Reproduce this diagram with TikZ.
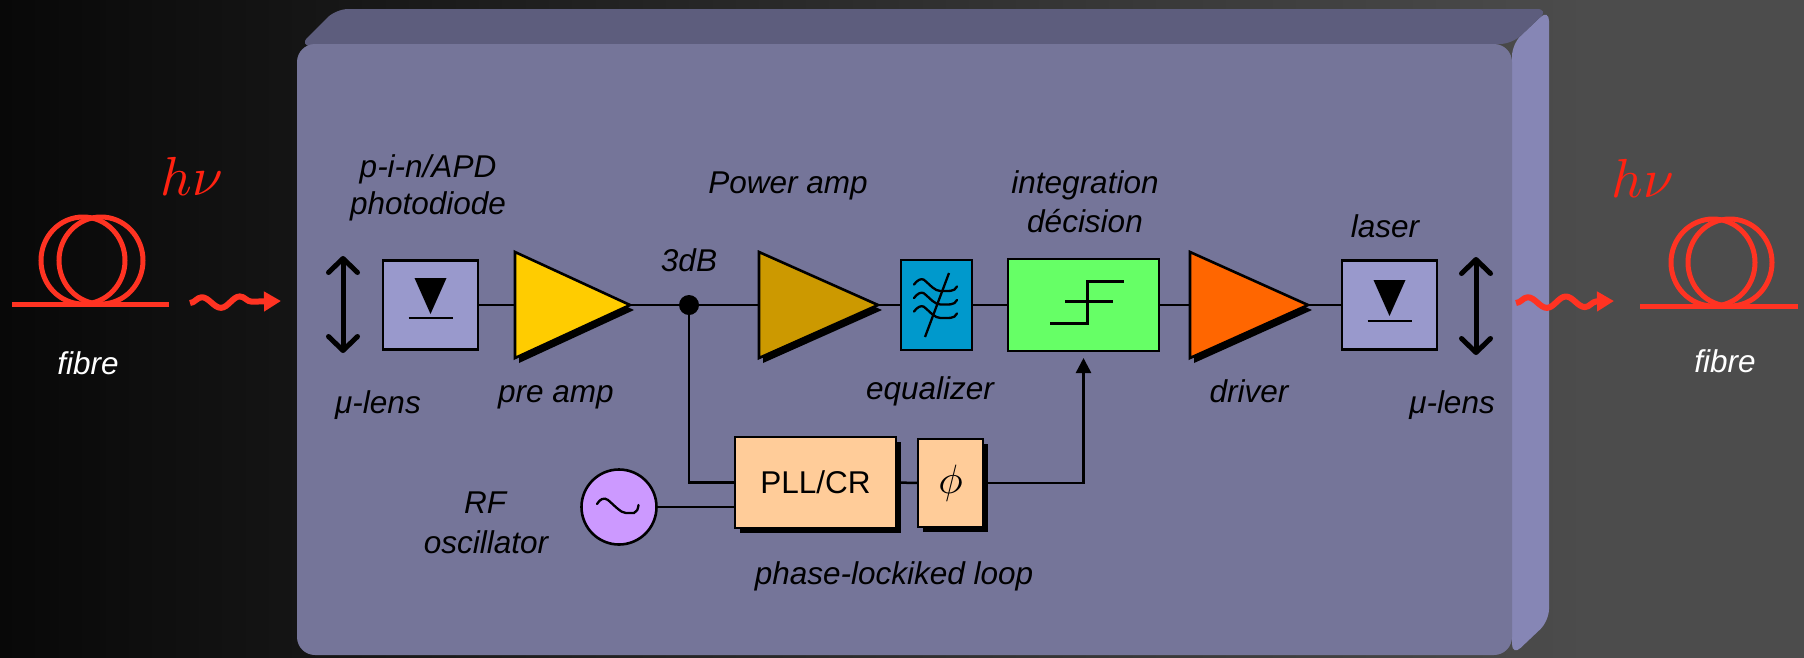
\documentclass[tikz,border=0pt]{standalone}
\usepackage{fontspec}
\setmainfont{Liberation Sans}
\usetikzlibrary{arrows.meta,decorations.pathmorphing,calc,shadows}

% palette
\definecolor{bgL}{HTML}{080808}
\definecolor{bgR}{HTML}{4C4C4C}
\definecolor{casefront}{HTML}{757599}
\definecolor{casetop}{HTML}{5D5D7D}
\definecolor{caseside}{HTML}{8686B5}
\definecolor{diodeblue}{HTML}{9999CC}
\definecolor{preampyellow}{HTML}{FFCC00}
\definecolor{powerochre}{HTML}{CC9900}
\definecolor{driverorange}{HTML}{FF6600}
\definecolor{eqcyan}{HTML}{0099CC}
\definecolor{decgreen}{HTML}{66FF66}
\definecolor{pllpeach}{HTML}{FFCC99}
\definecolor{oscviolet}{HTML}{CC99FF}
\definecolor{fibrered}{HTML}{FF3322}
\definecolor{hnured}{HTML}{FF2211}

% the path box covers 25bp..75bp of a shading
\pgfdeclarehorizontalshading{bgshade}{100bp}{color(0bp)=(bgL); color(25bp)=(bgL); color(69bp)=(bgR); color(100bp)=(bgR)}

\newcommand\lblfont{\fontsize{31.5}{36}\selectfont\itshape}

\tikzset{
  wire/.style={line width=2.5pt, draw=black},
  blk/.style={draw=black, line width=2.6pt, inner sep=0pt, outer sep=0pt},
  lbl/.style={font=\lblfont, text=black, inner sep=0pt, anchor=base},
  whitelbl/.style={lbl, text=white},
  hnu/.style={text=hnured, inner sep=0pt},
  photon/.style={draw=fibrered, line width=6pt, line join=round, decorate,
    decoration={snake, amplitude=5.5pt, segment length=38pt, post length=17pt},
    -{Triangle[length=17pt,width=19pt]}},
  coil/.style={draw=fibrered, line width=5pt},
  lensarrow/.style={line width=5pt,
    {Straight Barb[length=14pt,width=29pt,round]}-{Straight Barb[length=14pt,width=29pt,round]}},
  ampshadow/.style={drop shadow={shadow xshift=4pt, shadow yshift=-5pt, opacity=1, fill=black}},
  boxshadow/.style={drop shadow={shadow xshift=5pt, shadow yshift=-5pt, opacity=1, fill=black}},
  symline/.style={line width=2.6pt, draw=black},
}

\begin{document}
\begin{tikzpicture}[x=1pt,y=-1pt]
\useasboundingbox (0,0) rectangle (1804,657);
\shade[shading=bgshade] (0,0) rectangle (1804,657);

% ---- module casing (front, top and right faces) ----
\fill[caseside, rounded corners=12pt] (1512,44) -- (1549,9) -- (1549,621) -- (1512,656) -- cycle;
\fill[casetop, rounded corners=12pt] (299,46) -- (336,9) -- (1549,9) -- (1512,44) -- cycle;
\fill[casefront, rounded corners=18pt] (297,44) rectangle (1512,655);

% ---- input fibre ----
\draw[coil] (12,304) -- (169,304);
\draw[coil] (83,260.5) ellipse [x radius=42pt, y radius=43.5pt];
\draw[coil] (101,260.5) ellipse [x radius=42pt, y radius=43.5pt];
\node[whitelbl] (fibreL) at (88,374) {fibre};
\node[hnu] (hnuL) at (192,176) {\scalebox{5.5}{$h\nu$}};
\coordinate (phL-a) at (190,303);
\coordinate (phL-b) at (281,301);
\draw[photon] (phL-a) -- (phL-b);

% ---- output fibre ----
\draw[coil] (1640,306) -- (1798,306);
\draw[coil] (1713,262.5) ellipse [x radius=42pt, y radius=43.5pt];
\draw[coil] (1730,262.5) ellipse [x radius=42pt, y radius=43.5pt];
\node[whitelbl] (fibreR) at (1725,372) {fibre};
\node[hnu] (hnuR) at (1643,178) {\scalebox{5.5}{$h\nu$}};
\coordinate (phR-a) at (1516,303);
\coordinate (phR-b) at (1614,301);
\draw[photon] (phR-a) -- (phR-b);

% ---- micro lenses ----
\coordinate (lensL-a) at (343,256);
\coordinate (lensL-b) at (343,353);
\draw[lensarrow] (lensL-a) -- (lensL-b);
\coordinate (lensR-a) at (1476,257);
\coordinate (lensR-b) at (1476,355);
\draw[lensarrow] (lensR-a) -- (lensR-b);

% ---- blocks ----
\node[blk, fill=diodeblue, minimum width=95pt, minimum height=89pt] (pd) at (430.5,305) {};
\node[blk, fill=eqcyan, minimum width=71pt, minimum height=90pt] (eq) at (936.5,305) {};
\node[blk, fill=decgreen, minimum width=151pt, minimum height=92pt] (dec) at (1083.5,305) {};
\node[blk, fill=diodeblue, minimum width=95pt, minimum height=89pt] (ld) at (1389.5,305) {};
\node[blk, boxshadow, fill=pllpeach, minimum width=161pt, minimum height=91pt,
      font=\fontsize{31.5}{36}\selectfont] (pll) at (815.5,482.5) {PLL/CR};
\node[blk, boxshadow, fill=pllpeach, minimum width=65pt, minimum height=88pt] (phi) at (950.5,483) {\scalebox{4.1}{$\phi$}};
\node[blk, circle, fill=oscviolet, minimum size=75pt] (osc) at (619,507) {};

% amplifier ends
\coordinate (preL) at (515,305);  \coordinate (preR) at (630,305);
\coordinate (powL) at (759,305);  \coordinate (powR) at (878,305);
\coordinate (drvL) at (1190,305); \coordinate (drvR) at (1308,305);

% ---- signal path ----
\draw[wire] (pd.east) -- (preL);
\draw[wire] (preR) -- (powL);
\draw[wire] (powR) -- (eq.west);
\draw[wire] (eq.east) -- (dec.west);
\draw[wire] (dec.east) -- (drvL);
\draw[wire] (drvR) -- (ld.west);
\node[circle, fill=black, minimum size=20pt, inner sep=0pt] (tap) at (689,305) {};

% ---- clock recovery loop ----
\draw[wire] (tap.center) |- (pll.west);
\draw[wire] (osc.east) -- (osc.east -| pll.west);
\draw[wire] (pll.east) -- (phi.west);
\draw[wire, -{Triangle[length=15pt,width=15pt]}, shorten >=7pt] (phi.east) -| (dec.south);

% ---- amplifiers ----
\filldraw[blk, ampshadow, fill=preampyellow] ($(preL)+(0,-53)$) -- (preR) -- ($(preL)+(0,53)$) -- cycle;
\filldraw[blk, ampshadow, fill=powerochre] ($(powL)+(0,-53)$) -- (powR) -- ($(powL)+(0,53)$) -- cycle;
\filldraw[blk, ampshadow, fill=driverorange] ($(drvL)+(0,-53)$) -- (drvR) -- ($(drvL)+(0,53)$) -- cycle;

% ---- block symbols ----
\begin{scope}[shift={(pd.center)}]
  \fill[black] (-16,-27) -- (16,-27) -- (0,9) -- cycle;
  \draw[symline] (-22,13) -- (22,13);
\end{scope}
\begin{scope}[shift={(ld.center)}]
  \fill[black] (-16,-25) -- (16,-25) -- (0,11) -- cycle;
  \draw[symline] (-22,16) -- (22,16);
\end{scope}
\begin{scope}[shift={(eq.center)}]
  \foreach \o in {0,13.5,27}{
    \draw[symline, line width=2.3pt, line cap=round]
      (-22.5,-20.5+\o) .. controls (-19,-25+\o) and (-16,-26.5+\o) .. (-13,-25.5+\o)
      .. controls (-6,-20+\o) and (-2,-14+\o) .. (4,-14+\o)
      .. controls (12,-14+\o) and (18,-13+\o) .. (20.5,-18.5+\o);
  }
  \draw[symline, line width=2.3pt] (12.5,-32) -- (-11.5,32);
\end{scope}
\begin{scope}[shift={(dec.center)}]
  \draw[symline, line width=3pt] (-33.5,18) -- (4,18) -- (4,-24) -- (40.5,-24);
  \draw[symline, line width=3pt] (-18.5,-4) -- (29.5,-4);
\end{scope}
\begin{scope}[shift={(osc.center)}]
  \draw[symline, line width=2.3pt, line cap=round]
    (-22,-3) .. controls (-19,-8) and (-15,-10) .. (-11,-7)
    .. controls (-4,-1) and (2,6) .. (7,6) -- (15,6)
    .. controls (18,5) and (19,2) .. (19.5,-2);
\end{scope}

% ---- labels ----
\node[lbl] (t-pin)   at (428,177)  {p-i-n/APD};
\node[lbl] (t-photo) at (428,214)  {photodiode};
\node[lbl] (t-lensL) at (378,413)  {μ-lens};
\node[lbl] (t-pre)   at (556,402)  {pre amp};
\node[lbl] (t-3db)   at (689,271)  {3dB};
\node[lbl] (t-pow)   at (788,193)  {Power amp};
\node[lbl] (t-int)   at (1085,193) {integration};
\node[lbl] (t-dec)   at (1085,232) {décision};
\node[lbl] (t-eq)    at (930,399)  {equalizer};
\node[lbl] (t-laser) at (1385,237) {laser};
\node[lbl] (t-drv)   at (1249,402) {driver};
\node[lbl] (t-lensR) at (1452,413) {μ-lens};
\node[lbl] (t-rf)    at (485,513)  {RF};
\node[lbl] (t-osc)   at (486,553)  {oscillator};
\node[lbl] (t-pll)   at (894,584)  {phase-lockiked loop};
\end{tikzpicture}
\end{document}
